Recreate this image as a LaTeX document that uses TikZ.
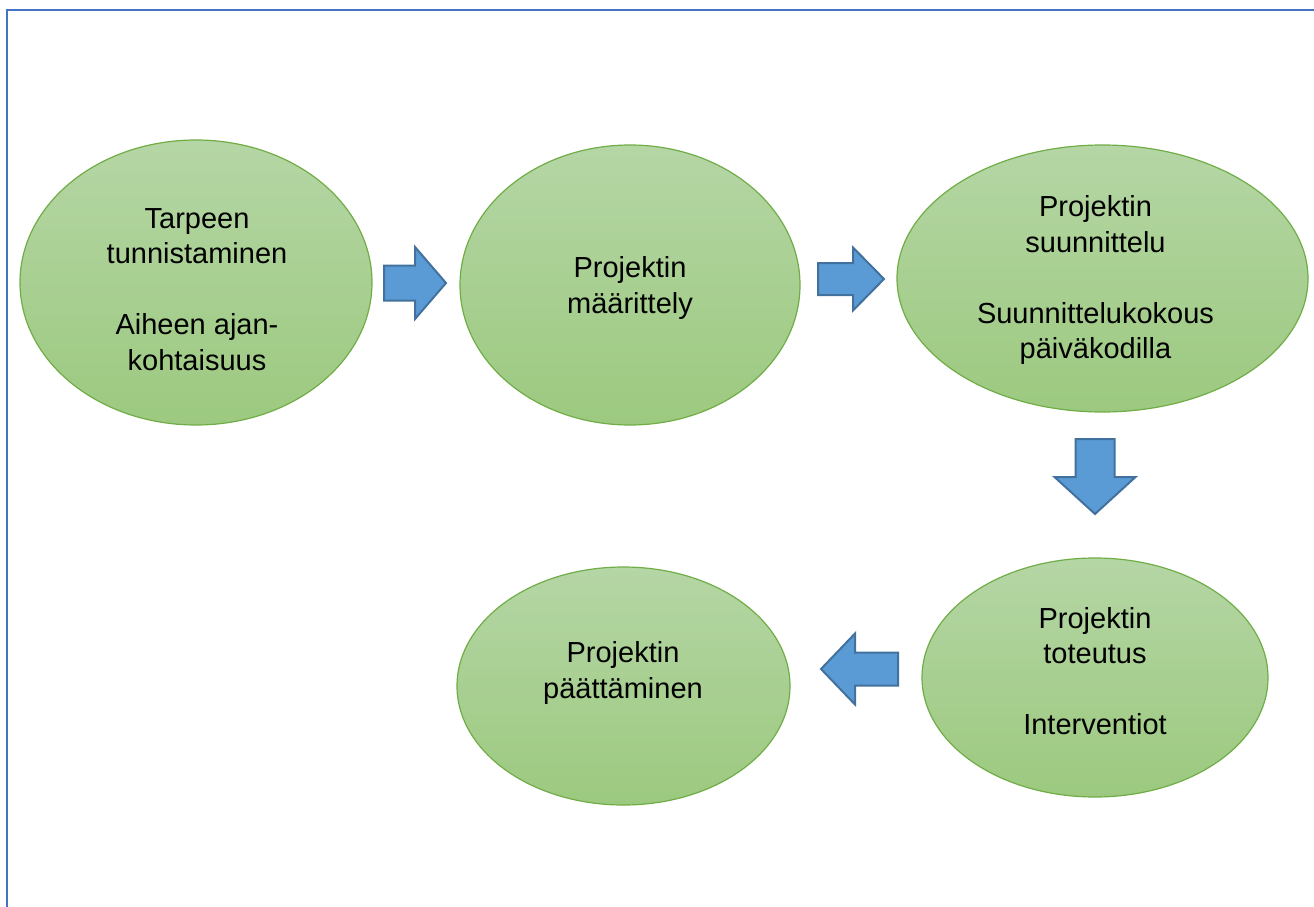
\documentclass[tikz,border=0pt]{standalone}
\usepackage{fontspec}
\setmainfont{Liberation Sans}
\usetikzlibrary{shapes.geometric}
\definecolor{color_frame}{HTML}{4472C4}
\definecolor{color_stage_top}{HTML}{B5D6A5}
\definecolor{color_stage_bottom}{HTML}{9CC97F}
\definecolor{color_stage_border}{HTML}{70AD47}
\definecolor{color_arrow_fill}{HTML}{5B9BD5}
\definecolor{color_arrow_border}{HTML}{41719C}
\def\stagegap{35.5pt}
\def\blockarrow[#1](#2,#3,#4,#5){
    \draw[color_arrow_border,fill=color_arrow_fill,line width=2pt,line join=miter,#1] (0,0) -- (-#3,#4) -- (-#3,#5) -- (-#3-#2,#5) -- (-#3-#2,-#5) -- (-#3,-#5) -- (-#3,-#4) -- cycle;
}
\tikzset{
    stage/.style={ellipse,draw=color_stage_border,line width=1.2pt,top color=color_stage_top,bottom color=color_stage_bottom,inner sep=0pt},
    stagetext/.style={align=center,inner sep=0pt,font=\fontsize{29pt}{35.5pt}\selectfont}
}

\begin{document}
\begin{tikzpicture}[x=1pt,y=-1pt]
        \useasboundingbox (0,0) rectangle (1314,907);
        % frame
        \draw[color_frame,line width=2.5pt] (7,907) -- (7,10) -- (1314,10);
        % stages
        \node[stage,minimum width=352pt,minimum height=285pt] (tarve) at (196,282.5) {};
        \node[stage,minimum width=340pt,minimum height=280pt] (maarittely) at (630,285) {};
        \node[stage,minimum width=411pt,minimum height=267pt] (suunnittelu) at (1102.5,278.5) {};
        \node[stage,minimum width=346pt,minimum height=239pt] (toteutus) at (1095,677.5) {};
        \node[stage,minimum width=333pt,minimum height=238pt] (paattaminen) at (623.5,686) {};
        \node[stagetext] (tarve_text) at (197,289.5) {Tarpeen\\tunnistaminen\\[\stagegap]Aiheen ajan-\\kohtaisuus};
        \node[stagetext] (maarittely_text) at (630,288) {Projektin\\määrittely};
        \node[stagetext] (suunnittelu_text) at (1095.5,280) {Projektin\\suunnittelu\\[\stagegap]Suunnittelukokous\\päiväkodilla};
        \node[stagetext] (toteutus_text) at (1095,671) {Projektin\\toteutus\\[\stagegap]Interventiot};
        \node[stagetext] (paattaminen_text) at (623,673) {Projektin\\päättäminen};
        % arrows
        \blockarrow[shift={(446,283)}](31,31,36,17.5)
        \blockarrow[shift={(884,279)}](35,31,31.5,16)
        \blockarrow[shift={(1095,514)},rotate=-90](38,37,40.5,19.5)
        \blockarrow[shift={(821,669)},rotate=180](43,34,35.5,16.5)
    \end{tikzpicture}
\end{document}
